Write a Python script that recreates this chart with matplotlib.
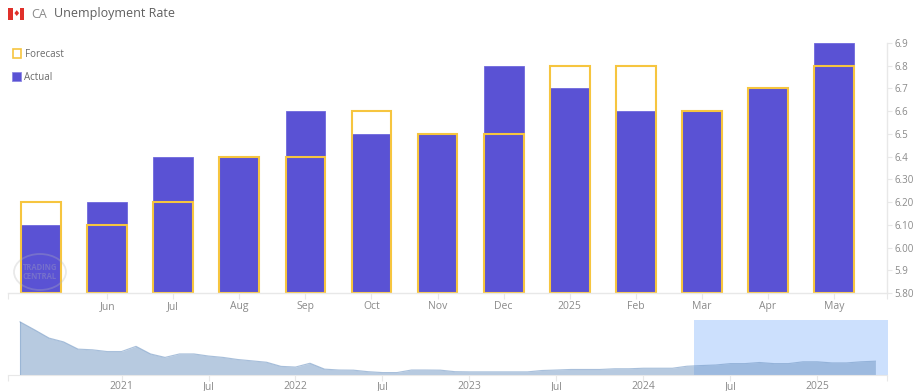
import matplotlib.pyplot as plt
from matplotlib.patches import Rectangle, Ellipse

plt.rcParams['font.family'] = ['Open Sans', 'DejaVu Sans']

W, H = 914, 391

months = ['', 'Jun', 'Jul', 'Aug', 'Sep', 'Oct', 'Nov', 'Dec', '2025', 'Feb', 'Mar', 'Apr', 'May']
actual = [6.1, 6.2, 6.4, 6.4, 6.6, 6.5, 6.5, 6.8, 6.7, 6.6, 6.6, 6.7, 6.9]
forecast = [6.2, 6.1, 6.2, 6.4, 6.4, 6.6, 6.5, 6.5, 6.8, 6.8, 6.6, 6.7, 6.8]

y_ticks = [5.8, 5.9, 6.0, 6.1, 6.2, 6.3, 6.4, 6.5, 6.6, 6.7, 6.8, 6.9]
y_labels = ['5.80', '5.9', '6.00', '6.10', '6.20', '6.30', '6.4', '6.5', '6.6', '6.7', '6.8', '6.9']

# overview strip, monthly from Jun 2020 to May 2025
history = [12.25, 11.1, 9.9, 9.35, 8.3, 8.2, 7.95,
           7.95, 8.7, 7.6, 7.1, 7.6, 7.6, 7.3, 7.1, 6.8, 6.6, 6.4, 5.8,
           5.7, 6.25, 5.4, 5.27, 5.25, 5.03, 4.9, 4.9, 5.27, 5.27, 5.25, 5.03,
           5.0, 5.0, 5.0, 5.0, 5.0, 5.2, 5.27, 5.35, 5.35, 5.35, 5.45, 5.45,
           5.53, 5.53, 5.53, 5.82, 5.92, 6.0, 6.2, 6.2, 6.36, 6.2, 6.2, 6.46,
           6.46, 6.3, 6.3, 6.46, 6.55]
nav_ticks = [7, 13, 19, 25, 31, 37, 43, 49, 55]
nav_labels = ['2021', 'Jul', '2022', 'Jul', '2023', 'Jul', '2024', 'Jul', '2025']
selected = (46.48, 59.9)

AXIS = '#e8e8e8'
TEXT = '#8a8a8a'
GOLD = '#f6c53f'
PURPLE = '#5a52d4'
AREA = (112 / 255, 150 / 255, 195 / 255)


def box(left, top, right, bottom):
    return [left / W, 1 - bottom / H, (right - left) / W, (bottom - top) / H]


fig = plt.figure(figsize=(W / 100, H / 100), dpi=100)

ax = fig.add_axes(box(8, 43, 887, 293))
x = list(range(len(actual)))
ax.bar(x, [a - 5.8 for a in actual], 0.6, bottom=5.8, color=PURPLE, edgecolor='#6f68dc', linewidth=0.6)
ax.bar(x, [f - 5.8 for f in forecast], 0.6, bottom=5.8, facecolor='none', edgecolor=GOLD, linewidth=1.5)
ax.set_xlim(-0.5, 12.8)
ax.set_ylim(5.8, 6.9)
ax.set_xticks(x[1:] + [-0.5, 12.8], months[1:] + ['', ''])
ax.yaxis.tick_right()
ax.set_yticks(y_ticks, y_labels)
ax.tick_params(axis='x', length=4, color=AXIS, labelcolor=TEXT, labelsize=7.5, pad=2)
ax.tick_params(axis='y', length=3.6, color=AXIS, labelcolor=TEXT, labelsize=7, pad=2)
for name in ['top', 'left']:
    ax.spines[name].set_visible(False)
for name in ['right', 'bottom']:
    ax.spines[name].set_color(AXIS)
    ax.spines[name].set_linewidth(1.0)

# watermark
fig.add_artist(Ellipse((40 / W, 1 - 272 / H), 52 / W, 36 / H, fill=False, edgecolor='#b8b8b8',
                       linewidth=1.3, alpha=0.3))
fig.text(40 / W, 1 - 272 / H, 'TRADING\nCENTRAL', color='#b8b8b8', alpha=0.3, fontsize=5.5, fontweight='bold',
         ha='center', va='center', linespacing=1.0)

# overview
nav = fig.add_axes(box(8, 320, 887, 374.5))
nav.patch.set_alpha(0)
months_idx = list(range(len(history)))
nav.axvspan(selected[0], selected[1], color='#cce0fd', linewidth=0, clip_on=False, zorder=1)
nav.fill_between(months_idx, 4.62, history, color=AREA, alpha=0.5, linewidth=0, zorder=2)
nav.plot(months_idx, history, color=AREA, alpha=0.6, linewidth=0.8, zorder=3)
nav.plot([0, 0], [4.62, history[0]], color=AREA, alpha=0.6, linewidth=0.8, zorder=3)
nav.set_xlim(-0.83, 59.8)
nav.set_ylim(4.62, 12.52)
nav.set_yticks([])
nav.set_xticks(nav_ticks + [-0.83, 59.8], nav_labels + ['', ''])
nav.tick_params(axis='x', length=4, color=AXIS, labelcolor=TEXT, labelsize=7.5, pad=0.5)
for name in ['top', 'left', 'right']:
    nav.spines[name].set_visible(False)
nav.spines['bottom'].set_color(AXIS)

# title with flag
fig.add_artist(Rectangle((8 / W, 1 - 20 / H), 16 / W, 12 / H, facecolor='white', edgecolor='none'))
fig.add_artist(Rectangle((8 / W, 1 - 20 / H), 4.5 / W, 12 / H, facecolor='#e0302a', edgecolor='none'))
fig.add_artist(Rectangle((19.5 / W, 1 - 20 / H), 4.5 / W, 12 / H, facecolor='#e0302a', edgecolor='none'))
fig.text(16 / W, 1 - 14.3 / H, '\u2666', color='#e0302a', fontsize=6, ha='center', va='center')
fig.text(31 / W, 1 - 14 / H, 'CA', color='#8a8a8a', fontsize=9, va='center')
fig.text(54 / W, 1 - 14 / H, 'Unemployment Rate', color='#5f5f5f', fontsize=9, va='center')

# legend
fig.add_artist(Rectangle((12.5 / W, 1 - 57.5 / H), 8 / W, 8 / H, facecolor='white', edgecolor=GOLD, linewidth=1.2))
fig.text(24.5 / W, 1 - 54.5 / H, 'Forecast', color='#6a6a6a', fontsize=7, va='center')
fig.add_artist(Rectangle((12 / W, 1 - 81 / H), 9 / W, 9 / H, facecolor=PURPLE, edgecolor='#8e88e4', linewidth=0.6))
fig.text(24.5 / W, 1 - 77 / H, 'Actual', color='#6a6a6a', fontsize=7, va='center')

fig.savefig('out.png', dpi=100)
